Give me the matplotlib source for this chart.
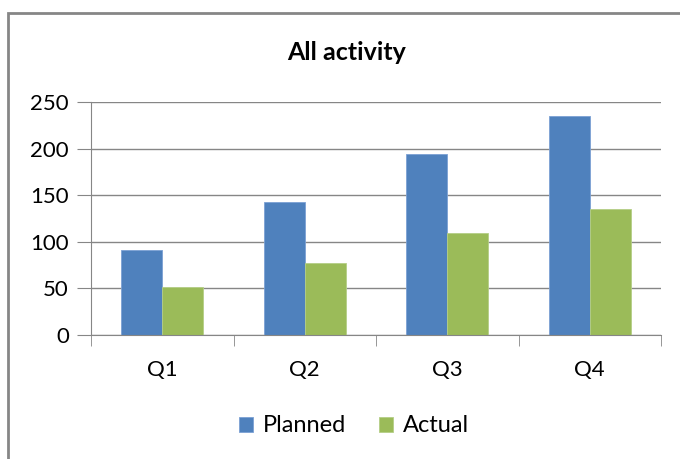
import matplotlib
matplotlib.use("Agg")
import matplotlib.pyplot as plt
from matplotlib.patches import Rectangle
import numpy as np

categories = ["Q1", "Q2", "Q3", "Q4"]
planned = [91, 143, 194, 235]
actual = [52, 77, 109, 135]
series_names = ["Planned", "Actual"]
colors = ["#4F81BD", "#9BBB59"]
yticks = [0, 50, 100, 150, 200, 250]

plt.rcParams['font.family'] = ['Lato', 'DejaVu Sans']

W, H = 680, 459
fig = plt.figure(figsize=(W/100, H/100), dpi=100)

# outer chart border (left & top visible)
fig.patches.append(Rectangle((8/W, -0.1), 1.2, (H-13)/H + 0.1, transform=fig.transFigure,
                             fill=False, edgecolor="#868686", linewidth=2))

left, right, top, bottom = 91, 661, 102, 335
ax = fig.add_axes([left/W, 1-bottom/H, (right-left)/W, (bottom-top)/H])

x = np.arange(len(categories))
bw = 0.2875
ax.bar(x - bw/2, planned, bw, color=colors[0], label=series_names[0], edgecolor="#7BA0D4", linewidth=0.6)
ax.bar(x + bw/2, actual, bw, color=colors[1], label=series_names[1], edgecolor="#B5CE86", linewidth=0.6)

ax.set_xlim(-0.5, len(categories) - 0.5)
ax.set_ylim(0, 250)
ax.set_yticks(yticks)
ax.yaxis.grid(True, color="#868686", linewidth=1)
ax.set_axisbelow(True)

for s in ["top", "right"]:
    ax.spines[s].set_visible(False)
ax.spines["left"].set_color("#868686")
ax.spines["bottom"].set_color("#868686")
ax.tick_params(axis="y", length=10, color="#868686", labelsize=16, pad=6, labelcolor="#000000")

ax.set_xticks(x)
ax.set_xticklabels(categories)
ax.tick_params(axis="x", length=0, labelsize=16, pad=18)
ax.set_xticks(np.arange(-0.5, len(categories)), minor=True)
ax.tick_params(axis="x", which="minor", length=8, color="#868686")

fig.text(347/W, 1-52/H, "All activity", ha="center", va="center", fontsize=18, fontweight="bold")

leg = fig.legend(loc="center", bbox_to_anchor=(354/W, 1-426/H), ncol=2, frameon=False,
                 fontsize=17, handlelength=0.6, handleheight=0.6, handletextpad=0.4,
                 columnspacing=1.4)

fig.savefig("out.png", dpi=100)
